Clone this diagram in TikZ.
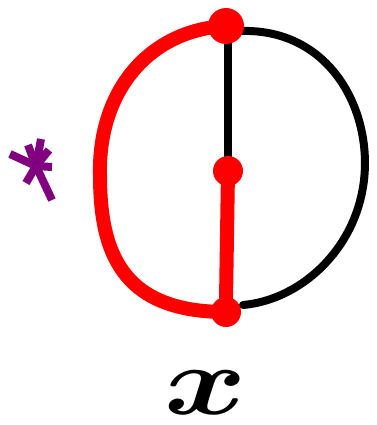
\documentclass[tikz,border=0pt]{standalone}
\usepackage{amsmath,bm}
\definecolor{pur}{RGB}{128,0,128}
\begin{document}
\begin{tikzpicture}[x=1pt,y=-1pt,
  dot/.style={circle,fill=red,inner sep=0pt,minimum size=#1},
  redline/.style={draw=red,line width=14pt,line cap=round,line join=round},
  blackline/.style={draw=black,line width=8pt,line cap=round,line join=round},
  star/.style={draw=pur,line width=8pt,line cap=butt}]
\useasboundingbox (0,0) rectangle (376,425);
\coordinate (t) at (226,26);
\coordinate (m) at (228,171);
\coordinate (b) at (226,312);
\coordinate (tr) at (240,31);
\coordinate (br) at (243,305);
% black right arc
\draw[blackline] (tr) .. controls (330,28) and (372,110) .. (364,180)
  .. controls (356,250) and (300,300) .. (br);
% black vertical
\draw[blackline] (228,40) -- (m);
% red left arc
\draw[redline] (t) .. controls (150,30) and (98,90) .. (100,175)
  .. controls (100,250) and (120,312) .. (b);
% red vertical
\draw[redline] (m) -- (226,300);
% dots
\node[dot=36pt] (T) at (t) {};
\node[dot=30pt] (M) at (m) {};
\node[dot=30pt] (B) at (b) {};
% asterisk
\coordinate (s) at (36,166);
\draw[star] (10,154) -- (s);
\draw[star] (s) -- (52,167);
\draw[star] (26,183) -- (s);
\draw[star] (s) -- (41,139);
\draw[star] (s) -- (28,145);
\draw[star] (s) -- (49,150);
\draw[star] (s) -- (52,200);
\node[inner sep=0pt] (X) at (206,393) {\scalebox{12.5}[9.8]{$\bm{x}$}};
\end{tikzpicture}
\end{document}
